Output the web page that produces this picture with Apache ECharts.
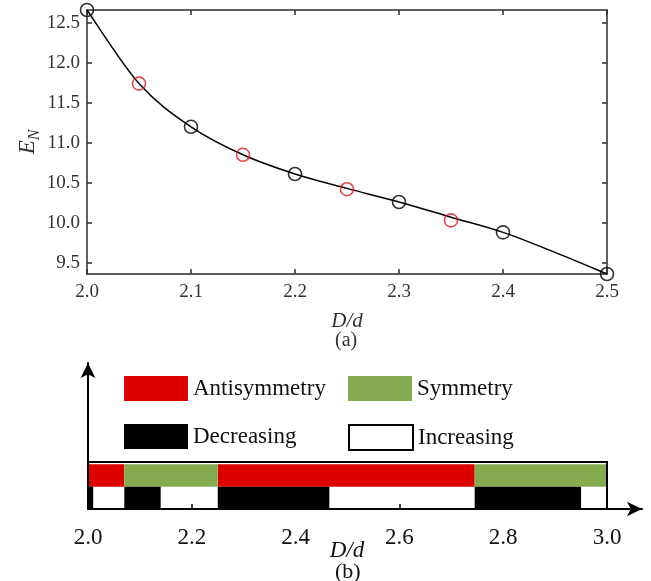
<!DOCTYPE html>
<html>
<head>
<meta charset="utf-8">
<script src="https://cdn.jsdelivr.net/npm/echarts@6/dist/echarts.min.js"></script>
<style>html,body{margin:0;padding:0;background:#fff}#c{width:651px;height:581px}</style>
</head>
<body>
<div id="c"></div>
<script>
// ---- Panel (a) data ----
var blackX = [2.0, 2.1, 2.2, 2.3, 2.4, 2.5];
var blackY = [12.66, 11.20, 10.61, 10.26, 9.88, 9.36];
var redX = [2.05, 2.15, 2.25, 2.35];
var redY = [11.74, 10.85, 10.42, 10.03];
var curveX = [2.0, 2.05, 2.1, 2.15, 2.2, 2.25, 2.3, 2.35, 2.4, 2.45, 2.5];
var curveY = [12.66, 11.74, 11.20, 10.85, 10.61, 10.43, 10.26, 10.07, 9.88, 9.63, 9.36];
var aXTicks = [2.0, 2.1, 2.2, 2.3, 2.4, 2.5];
var aYTicks = [9.5, 10.0, 10.5, 11.0, 11.5, 12.0, 12.5];

// ---- Panel (b) data ----
var antiStart = [2.0, 2.25];
var antiEnd = [2.07, 2.745];
var symStart = [2.07, 2.745];
var symEnd = [2.25, 3.0];
var decStart = [2.0, 2.07, 2.25, 2.745];
var decEnd = [2.01, 2.14, 2.465, 2.95];
var incStart = [2.01, 2.14, 2.465, 2.95];
var incEnd = [2.07, 2.25, 2.745, 3.0];
var bXTicks = [2.0, 2.2, 2.4, 2.6, 2.8, 3.0];

var FONT = '"Liberation Serif", "Times New Roman", serif';
var AX = '#2e2e2e';

function pairs(xs, ys){ return xs.map(function(x,i){return [x, ys[i]];}); }
function segs(s, e, row){ return s.map(function(v,i){return [v, e[i], row];}); }
function rectRender(fill){
  return function(params, api){
    var p0 = api.coord([api.value(0), api.value(2) + 1]);
    var p1 = api.coord([api.value(1), api.value(2)]);
    return {type:'rect', shape:{x:p0[0], y:p0[1], width:p1[0]-p0[0], height:p1[1]-p0[1]}, style:{fill:fill}};
  };
}
// smooth curve (Catmull-Rom as cubic Beziers) through the curve data, via axis coords
function curveRender(params, api){
  if (params.dataIndex !== 0) return null;
  var p = curveX.map(function(x,i){ return api.coord([x, curveY[i]]); });
  var n = p.length, kids = [];
  for (var i = 0; i < n - 1; i++){
    var a = p[Math.max(i-1,0)], b = p[i], c = p[i+1], d = p[Math.min(i+2,n-1)];
    kids.push({type:'bezierCurve', shape:{
      x1:b[0], y1:b[1], x2:c[0], y2:c[1],
      cpx1:b[0] + (c[0]-a[0])/6, cpy1:b[1] + (c[1]-a[1])/6,
      cpx2:c[0] - (d[0]-b[0])/6, cpy2:c[1] - (d[1]-b[1])/6},
      style:{fill:null, stroke:'#000', lineWidth:1.5}});
  }
  return {type:'group', children:kids};
}

var chart = echarts.init(document.getElementById('c'), null, {renderer:'canvas'});
var labelA = {fontFamily: FONT, fontSize: 19, color: '#333'};

var option = {
  animation: false,
  backgroundColor: '#fff',
  grid: [
    {left: 87, top: 10, width: 520, height: 264},
    {left: 88, top: 363, width: 554, height: 146}
  ],
  xAxis: [
    {gridIndex:0, type:'value', min:2.0, max:2.5, position:'bottom',
     axisLine:{lineStyle:{color:AX, width:1.5}},
     axisTick:{inside:true, length:5, customValues:aXTicks, lineStyle:{color:AX, width:1.5}},
     axisLabel:Object.assign({margin:9, customValues:aXTicks, formatter:function(v){return v.toFixed(1);}}, labelA),
     splitLine:{show:false},
     name:'D/d', nameLocation:'middle', nameGap:37, nameMoveOverlap:false,
     nameTextStyle:{fontFamily:FONT, fontSize:21, fontStyle:'italic', color:'#333'}},
    {gridIndex:0, type:'value', min:2.0, max:2.5, position:'top',
     axisLine:{lineStyle:{color:AX, width:1.5}},
     axisTick:{inside:true, length:5, customValues:aXTicks, lineStyle:{color:AX, width:1.5}},
     axisLabel:{show:false}, splitLine:{show:false}},
    {gridIndex:1, type:'value', min:2.0, max:3.0674,
     axisLine:{lineStyle:{color:'#000', width:2}, symbol:['none','arrow'], symbolSize:[11,15], symbolOffset:[0,0]},
     axisTick:{inside:true, length:5, customValues:bXTicks, lineStyle:{color:'#000', width:1.5}},
     axisLabel:{margin:17, customValues:bXTicks, fontFamily:FONT, fontSize:23, color:'#111',
       formatter:function(v){return v.toFixed(1);}},
     splitLine:{show:false},
     name:'D/d', nameLocation:'middle', nameGap:30, nameMoveOverlap:false,
     nameTextStyle:{fontFamily:FONT, fontSize:23, fontStyle:'italic', color:'#111', padding:[0,36,0,0]}}
  ],
  yAxis: [
    {gridIndex:0, type:'value', min:9.36, max:12.66, position:'left',
     axisLine:{show:true, lineStyle:{color:AX, width:1.5}},
     axisTick:{show:true, inside:true, length:5, customValues:aYTicks, lineStyle:{color:AX, width:1.5}},
     axisLabel:Object.assign({margin:7, customValues:aYTicks, formatter:function(v){return v.toFixed(1);}}, labelA),
     splitLine:{show:false},
     name:'{e|E}{n|N}', nameLocation:'middle', nameRotate:90, nameGap:44, nameMoveOverlap:false,
     nameTextStyle:{rich:{
       e:{fontFamily:FONT, fontSize:23, fontStyle:'italic', color:'#333'},
       n:{fontFamily:FONT, fontSize:16, fontStyle:'italic', color:'#333', padding:[14,0,0,0]}
     }}},
    {gridIndex:0, type:'value', min:9.36, max:12.66, position:'right',
     axisLine:{show:true, lineStyle:{color:AX, width:1.5}},
     axisTick:{show:true, inside:true, length:5, customValues:aYTicks, lineStyle:{color:AX, width:1.5}},
     axisLabel:{show:false}, splitLine:{show:false}},
    {gridIndex:1, type:'value', min:0, max:6.53,
     axisLine:{show:true, lineStyle:{color:'#000', width:2}, symbol:['none','arrow'], symbolSize:[11,15], symbolOffset:[0,0]},
     axisTick:{show:false}, axisLabel:{show:false}, splitLine:{show:false}}
  ],
  legend: [
    {left:124, top:376, padding:0, itemWidth:64, itemHeight:25, itemGap:0, selectedMode:false, icon:'rect',
     textStyle:{fontFamily:FONT, fontSize:23, color:'#111'}, data:[{name:'Antisymmetry'}]},
    {left:348, top:376, padding:0, itemWidth:64, itemHeight:25, itemGap:0, selectedMode:false, icon:'rect',
     textStyle:{fontFamily:FONT, fontSize:23, color:'#111'}, data:[{name:'Symmetry'}]},
    {left:124, top:424, padding:0, itemWidth:64, itemHeight:25, itemGap:0, selectedMode:false, icon:'rect',
     textStyle:{fontFamily:FONT, fontSize:23, color:'#111'}, data:[{name:'Decreasing'}]},
    {left:348, top:424, padding:0, itemWidth:64, itemHeight:25, itemGap:0, selectedMode:false, icon:'rect',
     textStyle:{fontFamily:FONT, fontSize:23, color:'#111'},
     data:[{name:'Increasing', itemStyle:{color:'#fff', borderColor:'#000', borderWidth:2}}]}
  ],
  graphic: [
    {type:'text', left:335, top:331, style:{text:'(a)', font:'20px ' + FONT, fill:'#333'}},
    {type:'text', left:335, top:561, style:{text:'(b)', font:'22px ' + FONT, fill:'#111'}}
  ],
  series: [
    {type:'custom', name:'curve', xAxisIndex:0, yAxisIndex:0, data:pairs(curveX, curveY),
     renderItem:curveRender, clip:false, z:2},
    {type:'scatter', name:'blackPts', xAxisIndex:0, yAxisIndex:0, data:pairs(blackX, blackY),
     symbol:'circle', symbolSize:13, clip:false,
     itemStyle:{color:'rgba(0,0,0,0)', borderColor:'#000', borderWidth:1.6}, z:3},
    {type:'scatter', name:'redPts', xAxisIndex:0, yAxisIndex:0, data:pairs(redX, redY),
     symbol:'circle', symbolSize:13, clip:false,
     itemStyle:{color:'rgba(0,0,0,0)', borderColor:'#dd1a1a', borderWidth:1.6}, z:3},
    {type:'custom', name:'Antisymmetry', xAxisIndex:2, yAxisIndex:2, data:segs(antiStart, antiEnd, 1),
     renderItem:rectRender('#dc0000'), itemStyle:{color:'#dc0000'}, encode:{x:[0,1], y:2}},
    {type:'custom', name:'Symmetry', xAxisIndex:2, yAxisIndex:2, data:segs(symStart, symEnd, 1),
     renderItem:rectRender('#84ab50'), itemStyle:{color:'#84ab50'}, encode:{x:[0,1], y:2}},
    {type:'custom', name:'Decreasing', xAxisIndex:2, yAxisIndex:2, data:segs(decStart, decEnd, 0),
     renderItem:rectRender('#000'), itemStyle:{color:'#000'}, encode:{x:[0,1], y:2}},
    {type:'custom', name:'Increasing', xAxisIndex:2, yAxisIndex:2, data:segs(incStart, incEnd, 0),
     renderItem:rectRender('rgba(255,255,255,0)'), itemStyle:{color:'#fff', borderColor:'#000', borderWidth:2}, encode:{x:[0,1], y:2}},
    {type:'custom', name:'frame', xAxisIndex:2, yAxisIndex:2, data:[[2.0, 3.0, 0, 2.1]], z:5,
     encode:{x:[0,1], y:[2,3]},
     renderItem:function(params, api){
       var p0 = api.coord([api.value(0), api.value(3)]);
       var p1 = api.coord([api.value(1), api.value(2)]);
       return {type:'rect', shape:{x:p0[0], y:p0[1], width:p1[0]-p0[0], height:p1[1]-p0[1]},
               style:{fill:'none', stroke:'#000', lineWidth:2}};
     }}
  ]
};
chart.setOption(option);
</script>
</body>
</html>
